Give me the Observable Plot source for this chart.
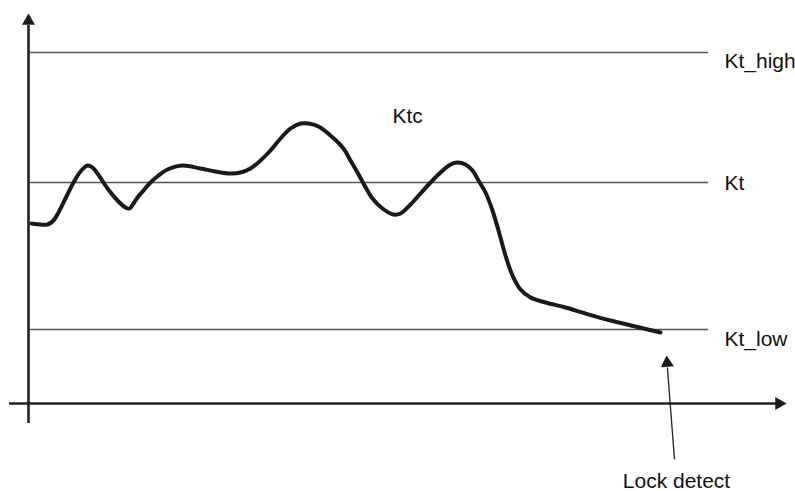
<!DOCTYPE html>
<html>
<head>
<meta charset="utf-8">
<script src="https://cdn.jsdelivr.net/npm/d3@7"></script>
<script src="https://cdn.jsdelivr.net/npm/@observablehq/plot@0.6"></script>
<style>
  html, body { margin: 0; padding: 0; background: #fff; }
  #chart svg { display: block; }
</style>
</head>
<body>
<div id="chart"></div>
<script>
// Ktc curve (time, value)
const ktcTime = [3,12,19,25,30,37,45,52,59,64,69,79,89,97,101,105,109,115,122,130,139,154,172,187,202,212,222,232,242,252,262,272,280,290,302,315,322,329,335,344,354,365,372,382,392,402,412,422,429,437,444,450,457,464,470,477,484,492,502,517,537,557,582,607,632];
const ktcValue = [180,179,179,183,191,205,221,232,238,236,230,215,203,196,195,200,206,213,221,228,234,238,235,232,230,231,235,243,253,265,275,280,280,277,268,255,243,231,220,205,195,189,190,199,210,221,231,239,241,239,233,223,211,193,173,148,128,114,106,101,96,90,83,77,71];

// Threshold levels
const levelNames = ["Kt_high", "Kt", "Kt_low"];
const levelValues = [351, 221, 74];
const levelLabelValues = [336, 214, 58];
const levelStart = 2, levelEnd = 680, levelLabelX = 696;

// Axis extents
const xAxisStart = -19, xAxisEnd = 748;
const yAxisStart = -20, yAxisEnd = 378;
const arrowHeads = [
  {x: 0, y: 382.5, rotate: 0},        // y axis
  {x: 750.5, y: 0, rotate: 90},       // x axis
  {x: 638.6, y: 40.5, rotate: -4.4}   // lock detect pointer
];

// Annotations
const ktcLabel = {text: "Ktc", x: 364, y: 280.5};
const lockLabel = {text: "Lock detect", x: 648, y: -84};
const lockPointer = [{x1: 646, y1: -56, x2: 638.9, y2: 36}];

const curve = ktcTime.map((t, i) => ({t, v: ktcValue[i]}));
const levels = levelNames.map((name, i) => ({name, v: levelValues[i], lv: levelLabelValues[i]}));

const font = "'Liberation Sans', Arial, Helvetica, sans-serif";

const chart = Plot.plot({
  width: 795,
  height: 491,
  margin: 0,
  style: {fontFamily: font, background: "#fff"},
  x: {domain: [-28, 767], axis: null},
  y: {domain: [-88, 403], axis: null},
  marks: [
    Plot.ruleY(levels, {y: "v", x1: levelStart, x2: levelEnd, stroke: "#555", strokeWidth: 1.4}),
    Plot.ruleX([0], {y1: yAxisStart, y2: yAxisEnd, stroke: "#222", strokeWidth: 2.6}),
    Plot.ruleY([0], {x1: xAxisStart, x2: xAxisEnd, stroke: "#222", strokeWidth: 2.6}),
    Plot.dot(arrowHeads, {x: "x", y: "y", rotate: "rotate", symbol: "triangle", r: 4.85, fill: "#1a1a1a", stroke: "none"}),
    Plot.link(lockPointer, {x1: "x1", y1: "y1", x2: "x2", y2: "y2", stroke: "#222", strokeWidth: 1.3}),
    Plot.line(curve, {x: "t", y: "v", curve: "catmull-rom", stroke: "#1a1a1a", strokeWidth: 4, strokeLinejoin: "round"}),
    Plot.text(levels, {x: levelLabelX, y: "lv", text: "name", textAnchor: "start", lineAnchor: "bottom", fontSize: 21, fill: "#111"}),
    Plot.text([ktcLabel], {x: "x", y: "y", text: "text", textAnchor: "start", lineAnchor: "bottom", fontSize: 21, fill: "#111"}),
    Plot.text([lockLabel], {x: "x", y: "y", text: "text", textAnchor: "middle", lineAnchor: "bottom", fontSize: 21, fill: "#111"})
  ]
});
document.getElementById("chart").appendChild(chart);
</script>
</body>
</html>
